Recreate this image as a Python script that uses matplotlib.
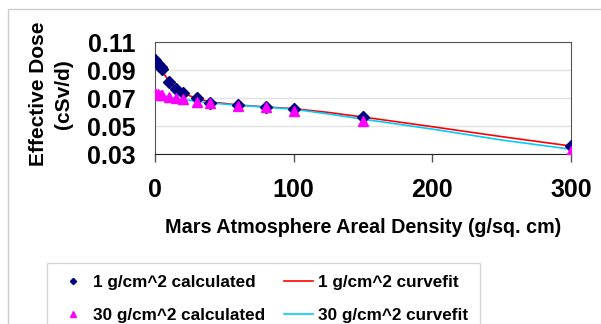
import numpy as np
import matplotlib
matplotlib.use("Agg")
from matplotlib import pyplot as plt
from matplotlib.patches import Rectangle

plt.rcParams['font.family'] = ['Liberation Sans', 'DejaVu Sans']
plt.rcParams['font.weight'] = 'bold'

# calculated points
x_calc = [0, 2, 4, 5, 10, 15, 20, 30, 40, 60, 80, 100, 150, 300]
dose_1 = [0.0971, 0.0943, 0.0919, 0.0907, 0.0814, 0.0762, 0.0734, 0.0698,
          0.0667, 0.0650, 0.0636, 0.0624, 0.0562, 0.0357]
dose_30 = [0.0734, 0.0729, 0.0722, 0.0718, 0.0709, 0.0698, 0.0691, 0.0674,
           0.0662, 0.0643, 0.0634, 0.0605, 0.0536, 0.0324]

# curve fits
x_fit = [0, 5, 10, 15, 20, 30, 40, 60, 80, 100, 125, 150, 200, 250, 300]
fit_1 = [0.0975, 0.0895, 0.0820, 0.0765, 0.0735, 0.0697, 0.0672, 0.0650,
         0.0636, 0.0624, 0.0597, 0.0564, 0.0495, 0.0424, 0.0357]
fit_30 = [0.0732, 0.0720, 0.0708, 0.0698, 0.0690, 0.0676, 0.0665, 0.0648,
          0.0635, 0.0620, 0.0586, 0.0549, 0.0478, 0.0400, 0.0334]

W, H = 601, 324
fig = plt.figure(figsize=(W / 100, H / 100), dpi=100)

# light frame around the chart
fig.patches.append(Rectangle((8 / W, -0.1), 1.2, 1.1 - 9 / H, transform=fig.transFigure,
                             fill=False, edgecolor='#cccccc', lw=1))

ax = fig.add_axes([155 / W, (H - 154) / H, (571 - 155) / W, 112 / H])

ax.plot(x_fit, fit_1, color='#ff0000', lw=1.2, label='1 g/cm^2 curvefit', zorder=2)
ax.plot(x_fit, fit_30, color='#00ccff', lw=1.2, label='30 g/cm^2 curvefit', zorder=2)
ax.plot(x_calc, dose_1, 'D', color='#000080', ms=6.3, ls='none',
        label='1 g/cm^2 calculated', zorder=3)
ax.plot(x_calc, dose_30, '^', color='#ff00ff', ms=7.5, ls='none',
        label='30 g/cm^2 calculated', zorder=4)

ax.set_xlim(0, 300)
ax.set_ylim(0.03, 0.11)
ax.set_xticks([0, 100, 200, 300])
ax.set_yticks([0.03, 0.05, 0.07, 0.09, 0.11])
ax.set_yticklabels(['0.03', '0.05', '0.07', '0.09', '0.11'])
ax.grid(axis='y', color='#e3e3e3', lw=1)
ax.set_axisbelow(True)

for s in ['top', 'right', 'left']:
    ax.spines[s].set_color('#555555')
ax.spines['bottom'].set_color('#222222')
ax.tick_params(axis='x', length=6, width=1, color='#555555', labelsize=18, pad=11)
ax.tick_params(axis='y', length=0, labelsize=18, pad=14)
for lab in ax.get_xticklabels() + ax.get_yticklabels():
    lab.set_fontweight('bold')

ax.set_xlabel('Mars Atmosphere Areal Density (g/sq. cm)', fontsize=14.2,
              fontweight='bold', labelpad=12)
fig.text(51 / W, 1 - 94 / H, 'Effective Dose\n(cSv/d)', rotation=90, fontsize=15,
         fontweight='bold', ha='center', va='center', multialignment='center',
         linespacing=1.4)

h, l = ax.get_legend_handles_labels()
order = [2, 3, 0, 1]
leg = fig.legend([h[i] for i in order], [l[i] for i in order], ncol=2,
                 loc='upper left', bbox_to_anchor=(47 / W, 1 - 263 / H),
                 prop={'size': 12.3, 'weight': 'bold'}, frameon=True, fancybox=False,
                 edgecolor='#cccccc', markerscale=0.5, handlelength=1.7,
                 handletextpad=0.3, columnspacing=1.1, labelspacing=1.05,
                 borderpad=0.7, borderaxespad=0)
leg.get_frame().set_linewidth(1)

plt.savefig('out.png', dpi=100)
